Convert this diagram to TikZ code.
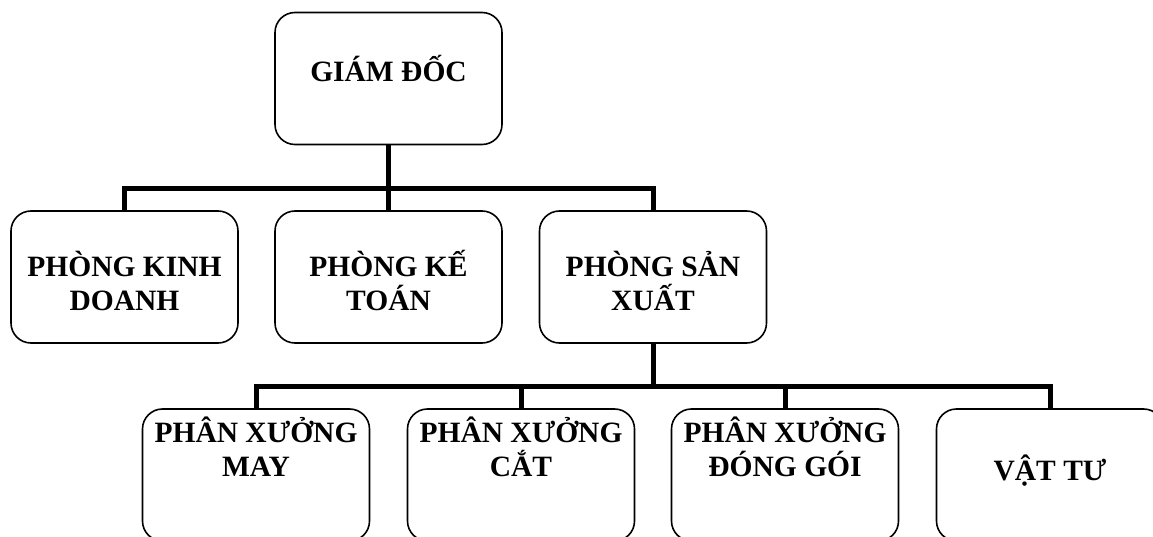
\documentclass[tikz,border=0pt]{standalone}
\usepackage{fontspec}
\setmainfont{Liberation Serif}
\usetikzlibrary{calc}

\tikzset{
  unit/.style={draw, line width=1.6pt, rounded corners=20pt, minimum width=227pt, minimum height=132pt,
    inner sep=0pt, align=center, font=\fontsize{29.5}{34}\selectfont\bfseries, text height=24pt},
  boss/.style={unit, text depth=18pt},
  dept/.style={unit, text height=80pt, text depth=14pt},
  shop/.style={unit, text depth=21pt},
  shopone/.style={unit, text depth=13pt},
  link/.style={line width=5pt},
}

\begin{document}
\begin{tikzpicture}[x=1pt, y=-1pt]
\useasboundingbox (0,0) rectangle (1153,537);
\clip (0,0) rectangle (1153,537);
% Director
\node[boss] (gd) at (388.5,78.5) {GIÁM ĐỐC};
% Departments
\node[dept] (kd) at (124.5,277) {PHÒNG KINH\\DOANH};
\node[dept] (kt) at (388.5,277) {PHÒNG KẾ\\TOÁN};
\node[dept] (sx) at (653,277) {PHÒNG SẢN\\XUẤT};
% Workshops
\node[shop] (may) at (256,475) {PHÂN XƯỞNG\\MAY};
\node[shop] (cat) at (521,475) {PHÂN XƯỞNG\\CẮT};
\node[shop] (dg) at (785,475) {PHÂN XƯỞNG\\ĐÓNG GÓI};
\node[shopone] (vt) at (1050,475) {VẬT TƯ};
% Links
\coordinate (bus1) at (388.5,188.5);
\coordinate (bus2) at (653,386.5);
\draw[link] (kd.north) |- (bus1) -| (sx.north);
\draw[link] (gd.south) -- (kt.north);
\draw[link] (sx.south) -- (bus2);
\draw[link] (may.north) |- (bus2) -| (vt.north);
\draw[link] (cat.north) -- (cat.north |- bus2);
\draw[link] (dg.north) -- (dg.north |- bus2);
\end{tikzpicture}
\end{document}
